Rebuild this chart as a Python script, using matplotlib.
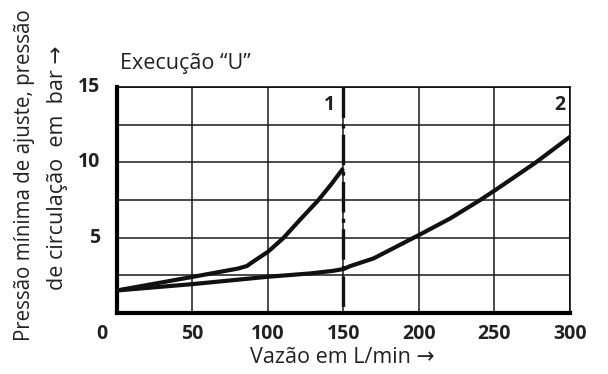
import matplotlib.pyplot as plt
import numpy as np

plt.rcParams['font.family'] = ['Open Sans', 'DejaVu Sans']
plt.rcParams['lines.scale_dashes'] = False

# curve 1 (ends at 150 L/min) and curve 2
x1 = [0, 50, 80, 86, 90, 100, 110, 121, 133.4, 142.3, 149]
y1 = [1.5, 2.4, 2.95, 3.12, 3.4, 4.07, 4.96, 6.17, 7.5, 8.6, 9.5]
x2 = [0, 50, 100, 128, 143, 150, 154, 170, 200, 220.7, 240.5, 250.5, 277, 300]
y2 = [1.5, 1.92, 2.41, 2.63, 2.8, 2.92, 3.1, 3.63, 5.18, 6.28, 7.5, 8.16, 9.97, 11.7]

xticks = [50, 100, 150, 200, 250, 300]
yticks = [5, 10, 15]
limit_x = 150

fig = plt.figure(figsize=(6.08, 3.74), dpi=100)
ax = fig.add_axes([0.1924, 0.163, 0.745, 0.604])

ax.set_xlim(0, 300)
ax.set_ylim(0, 15)
ax.set_xticks(np.arange(0, 301, 50))
ax.set_yticks(np.arange(0, 15.1, 2.5))
ax.grid(True, color='#1a1a1a', linewidth=1.1)
ax.set_axisbelow(True)
ax.tick_params(length=0, labelleft=False, labelbottom=False)

for s in ['left', 'bottom']:
    ax.spines[s].set_linewidth(3)
for s in ['top', 'right']:
    ax.spines[s].set_linewidth(1.1)

ax.plot(x1, y1, color='#111111', linewidth=3, solid_joinstyle='round', zorder=3)
ax.plot(x2, y2, color='#111111', linewidth=3, solid_joinstyle='round', zorder=3)

# dash-dot limit line, drawn top to bottom
ax.plot([limit_x, limit_x], [15, 0], color='#111111', linewidth=2.4, zorder=4,
        linestyle=(0, (22, 4.5, 3, 4.5)))

for v in xticks:
    ax.text(v, -0.75, str(v), ha='center', va='top', fontsize=14, fontweight='bold', color='#222222')
for v in yticks:
    ax.text(-11, v, str(v), ha='right', va='center', fontsize=14, fontweight='bold', color='#222222')
ax.text(-10, -0.75, '0', ha='center', va='top', fontsize=14, fontweight='bold', color='#222222')

ax.text(144.5, 13.8, '1', ha='right', va='center', fontsize=14, fontweight='bold', color='#222222')
ax.text(297, 13.8, '2', ha='right', va='center', fontsize=14, fontweight='bold', color='#222222')

fig.text(0.197, 0.831, 'Execução \u201cU\u201d', ha='left', va='center', fontsize=15.5, color='#222222')
fig.text(0.563, 0.043, 'Vazão em L/min \u2192', ha='center', va='center', fontsize=15.5, color='#222222')
fig.text(0.041, 0.532, 'Pressão mínima de ajuste, pressão', rotation=90, ha='center', va='center',
         fontsize=14.8, color='#222222')
fig.text(0.094, 0.55, 'de circulação  em  bar \u2192', rotation=90, ha='center', va='center',
         fontsize=15.5, color='#222222')

fig.savefig('out.png', dpi=100)
